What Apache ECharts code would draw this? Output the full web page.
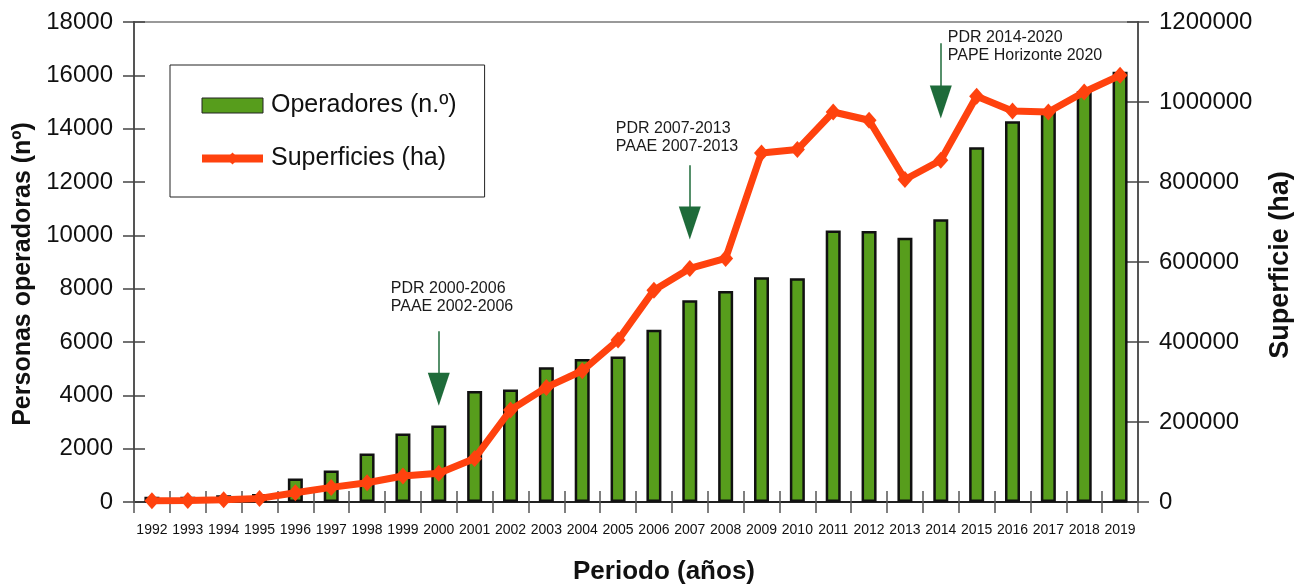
<!DOCTYPE html>
<html>
<head>
<meta charset="utf-8">
<script src="https://cdn.jsdelivr.net/npm/echarts@6/dist/echarts.min.js"></script>
<style>
  html, body { margin: 0; padding: 0; background: #fff; }
  #chart { width: 1297px; height: 586px; }
</style>
</head>
<body>
<div id="chart"></div>
<script>
  // datos
  const years = ['1992', '1993', '1994', '1995', '1996', '1997', '1998', '1999', '2000', '2001',
    '2002', '2003', '2004', '2005', '2006', '2007', '2008', '2009', '2010', '2011',
    '2012', '2013', '2014', '2015', '2016', '2017', '2018', '2019'];
  const operadores = [200, 200, 250, 300, 880, 1180, 1820, 2570, 2870, 4160,
    4220, 5050, 5360, 5460, 6460, 7570, 7910, 8430, 8390, 10180,
    10160, 9910, 10600, 13300, 14280, 14650, 15400, 16130];
  const superficies = [3000, 3500, 5500, 9000, 23000, 36500, 48000, 65000, 71700, 109000,
    230000, 286500, 328000, 404700, 529600, 583800, 608800, 872600, 881000, 975000,
    954300, 806200, 854400, 1014300, 977500, 975000, 1025000, 1066700];

  // anotaciones de los programas
  const annotYears = ['2000', '2007', '2014'];
  const annotTexts = ['PDR 2000-2006\nPAAE 2002-2006', 'PDR 2007-2013\nPAAE 2007-2013', 'PDR 2014-2020\nPAPE Horizonte 2020'];

  // colocacion de las flechas (en unidades del eje izquierdo)
  const annotPlace = [
    { text: 7650, stem: 6400, head: 4230, dx: -48 },
    { text: 13650, stem: 12630, head: 10460, dx: -74 },
    { text: 17080, stem: 17200, head: 15000, dx: 7 }
  ];

  const FONT = '"Liberation Sans", Arial, sans-serif';
  const arrowColor = '#1e6b3a';

  let myChart = echarts.init(document.getElementById('chart'));

  const stems = annotYears.map((y, i) => [
    { coord: [y, annotPlace[i].stem] },
    { coord: [y, annotPlace[i].head] }
  ]);
  const heads = annotYears.map((y, i) => ({
    coord: [y, annotPlace[i].head],
    symbol: 'triangle',
    symbolRotate: 180,
    symbolSize: [22, 33],
    itemStyle: { color: arrowColor, borderWidth: 0 },
    label: { show: false }
  }));
  const texts = annotYears.map((y, i) => ({
    coord: [y, annotPlace[i].text],
    symbol: 'rect',
    symbolSize: 1,
    itemStyle: { color: 'rgba(0,0,0,0)', borderWidth: 0 },
    label: {
      show: true,
      formatter: annotTexts[i],
      position: 'inside',
      align: 'left',
      verticalAlign: 'middle',
      offset: [annotPlace[i].dx, 0],
      fontFamily: FONT,
      fontSize: 16,
      lineHeight: 18,
      color: '#1a1a1a'
    }
  }));

  const yBase = {
    type: 'value',
    splitLine: { show: false },
    axisLine: { show: true, lineStyle: { color: '#555', width: 2 } },
    axisTick: { show: true, length: 11, lineStyle: { color: '#444', width: 1.5 } },
    axisLabel: { fontFamily: FONT, fontSize: 24, color: '#111', margin: 21, formatter: v => String(v) },
    nameLocation: 'middle'
  };

  let option = {
    backgroundColor: '#fff',
    animation: false,
    grid: {
      left: 134, right: 159, top: 22, bottom: 84,
      outerBoundsMode: 'none',
      containLabel: false,
      show: true, borderColor: '#999', borderWidth: 2, backgroundColor: 'transparent'
    },
    legend: {
      orient: 'vertical',
      left: 170,
      top: 65,
      padding: [28, 28, 26, 28],
      itemGap: 28,
      itemWidth: 61,
      itemHeight: 15,
      borderColor: '#222',
      borderWidth: 1,
      backgroundColor: '#fff',
      textStyle: { fontFamily: FONT, fontSize: 25, color: '#111', padding: [0, 0, 0, 3] },
      data: [
        { name: 'Operadores (n.º)', icon: 'rect', itemStyle: { borderWidth: 1, borderColor: '#222' } },
        { name: 'Superficies (ha)', lineStyle: { width: 8 }, itemStyle: { color: '#ff420e' } }
      ]
    },
    xAxis: [
      {
        type: 'category',
        data: years,
        position: 'bottom',
        name: 'Periodo (años)',
        nameLocation: 'middle',
        nameGap: 57,
        nameTextStyle: { fontFamily: FONT, fontSize: 26, fontWeight: 'bold', color: '#111', padding: [0, 0, 0, 56] },
        axisLine: { show: true, lineStyle: { color: '#222', width: 2 } },
        axisTick: { show: true, length: 11, lineStyle: { color: '#555', width: 1.5 } },
        axisLabel: { fontFamily: FONT, fontSize: 14, color: '#111', margin: 21, interval: 0 }
      },
      {
        // marcas interiores (ticks que cruzan el eje)
        type: 'category',
        data: years,
        position: 'bottom',
        offset: 0,
        axisLine: { show: false },
        axisTick: { show: true, inside: true, interval: 0, length: 11, lineStyle: { color: '#555', width: 1.5 } },
        axisLabel: { show: false }
      }
    ],
    yAxis: [
      Object.assign({}, yBase, {
        min: 0, max: 18000, interval: 2000, position: 'left',
        name: 'Personas operadoras (nº)', nameGap: 96,
        nameTextStyle: { fontFamily: FONT, fontSize: 25, fontWeight: 'bold', color: '#111', padding: [0, 24, 0, 0] }
      }),
      Object.assign({}, yBase, {
        min: 0, max: 1200000, interval: 200000, position: 'right',
        name: 'Superficie (ha)', nameGap: 129, nameRotate: 90,
        nameTextStyle: { fontFamily: FONT, fontSize: 27, fontWeight: 'bold', color: '#111', padding: [0, 6, 0, 0] }
      }),
      {
        type: 'value', min: 0, max: 18000, interval: 2000, position: 'left',
        splitLine: { show: false }, axisLine: { show: false }, axisLabel: { show: false },
        axisTick: { show: true, inside: true, length: 11, lineStyle: { color: '#444', width: 1.5 } }
      },
      {
        type: 'value', min: 0, max: 1200000, interval: 200000, position: 'right',
        splitLine: { show: false }, axisLine: { show: false }, axisLabel: { show: false },
        axisTick: { show: true, inside: true, length: 11, lineStyle: { color: '#444', width: 1.5 } }
      }
    ],
    series: [
      {
        name: 'Operadores (n.º)',
        type: 'bar',
        yAxisIndex: 0,
        barWidth: 15,
        data: operadores,
        itemStyle: { color: '#579d1c', borderColor: '#111', borderWidth: 2.5 },
        markLine: {
          silent: true,
          symbol: ['none', 'none'],
          label: { show: false },
          lineStyle: { color: arrowColor, width: 1.5, type: 'solid' },
          data: stems
        },
        markPoint: {
          silent: true,
          data: heads.concat(texts)
        }
      },
      {
        name: 'Superficies (ha)',
        type: 'line',
        yAxisIndex: 1,
        data: superficies,
        symbol: 'diamond',
        symbolSize: [15, 17],
        lineStyle: { color: '#ff420e', width: 7 },
        itemStyle: { color: '#ff420e' },
        z: 5
      }
    ]
  };

  myChart.setOption(option);
  window.addEventListener('resize', function () { myChart.resize() });
</script>
</body>
</html>
